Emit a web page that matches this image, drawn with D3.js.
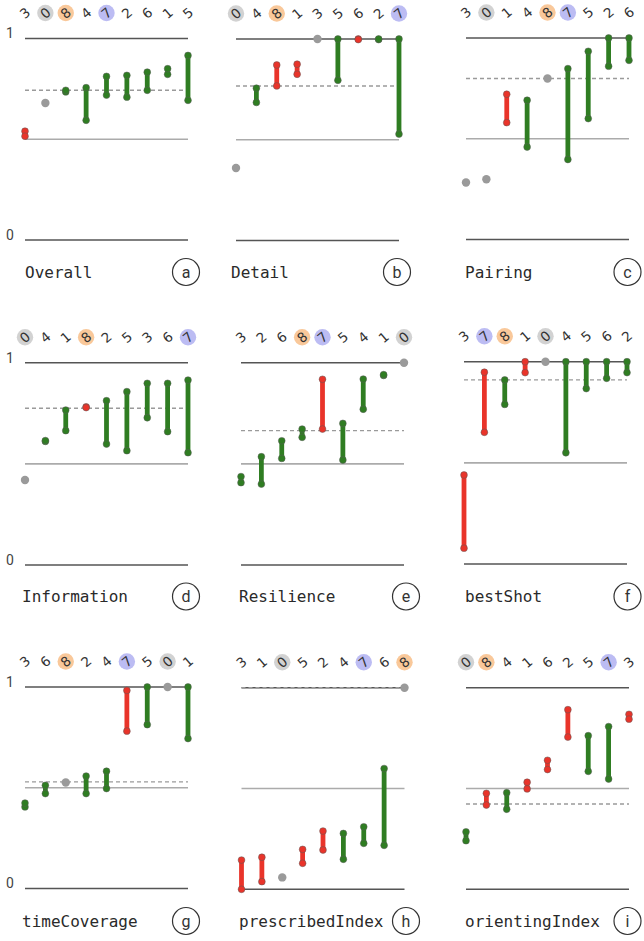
<!DOCTYPE html>
<html>
<head>
<meta charset="utf-8">
<script src="https://cdn.jsdelivr.net/npm/d3@7"></script>
<style>
  body { margin: 0; background: #fff; }
  svg { display: block; }
</style>
</head>
<body>
<svg id="chart" width="644" height="941"></svg>
<script>
// Panel data
const titles = ["Overall", "Detail", "Pairing", "Information", "Resilience", "bestShot",
    "timeCoverage", "prescribedIndex", "orientingIndex"];
const letters = ["a", "b", "c", "d", "e", "f", "g", "h", "i"];

const orders = [
    [3, 0, 8, 4, 7, 2, 6, 1, 5],
    [0, 4, 8, 1, 3, 5, 6, 2, 7],
    [3, 0, 1, 4, 8, 7, 5, 2, 6],
    [0, 4, 1, 8, 2, 5, 3, 6, 7],
    [3, 2, 6, 8, 7, 5, 4, 1, 0],
    [3, 7, 8, 1, 0, 4, 5, 6, 2],
    [3, 6, 8, 2, 4, 7, 5, 0, 1],
    [3, 1, 0, 5, 2, 4, 7, 6, 8],
    [0, 8, 4, 1, 6, 2, 5, 7, 3]
];

// value before and after, one per category in the order above
const fromVals = [
    [0.54, 0.68, 0.735, 0.594, 0.719, 0.709, 0.743, 0.822, 0.693],
    [0.36, 0.685, 0.871, 0.875, 1.0, 0.795, 1.0, 0.997, 0.528],
    [0.283, 0.299, 0.721, 0.459, 0.799, 0.397, 0.6, 0.86, 0.889],
    [0.42, 0.611, 0.664, 0.782, 0.598, 0.565, 0.728, 0.659, 0.555],
    [0.407, 0.4, 0.527, 0.631, 0.918, 0.519, 0.77, 0.937, 1.0],
    [0.44, 0.948, 0.789, 1.0, 1.0, 0.55, 0.867, 0.918, 0.946],
    [0.405, 0.471, 0.526, 0.471, 0.496, 0.983, 0.813, 1.0, 0.744],
    [0.145, 0.159, 0.059, 0.198, 0.289, 0.149, 0.228, 0.218, 1.0],
    [0.241, 0.476, 0.397, 0.531, 0.64, 0.891, 0.585, 0.547, 0.868]
];
const toVals = [
    [0.515, 0.68, 0.743, 0.756, 0.812, 0.817, 0.833, 0.85, 0.916],
    [0.36, 0.756, 0.767, 0.825, 1.0, 1.0, 0.997, 1.0, 1.0],
    [0.283, 0.299, 0.58, 0.691, 0.799, 0.848, 0.934, 1.0, 1.0],
    [0.42, 0.615, 0.766, 0.778, 0.812, 0.857, 0.898, 0.898, 0.914],
    [0.437, 0.535, 0.614, 0.672, 0.672, 0.7, 0.919, 0.941, 1.0],
    [0.078, 0.651, 0.91, 0.946, 1.0, 1.0, 1.0, 1.0, 1.0],
    [0.424, 0.512, 0.526, 0.558, 0.582, 0.781, 1.0, 1.0, 1.0],
    [0.0, 0.038, 0.059, 0.129, 0.195, 0.277, 0.31, 0.599, 1.0],
    [0.285, 0.418, 0.479, 0.498, 0.594, 0.755, 0.762, 0.807, 0.844]
];
// dashed reference level in each panel
const refVals = [0.743, 0.767, 0.799, 0.775, 0.664, 0.91, 0.529, 1.0, 0.423];

const highlight = { 0: "#d2d2d2", 8: "#f9c89a", 7: "#bcbcf3" };
const colors = { up: "#2f7d22", down: "#e9342a", same: "#9a9a9a" };

// layout of each panel: x range of the marks, y of the 1 and 0 lines, title x
const layout = [
    { x0: 25, x1: 188, y1: 38.5, y0: 240, tx: 25 },
    { x0: 236, x1: 399, y1: 39, y0: 240.5, tx: 231 },
    { x0: 466, x1: 629, y1: 38, y0: 239.5, tx: 465 },
    { x0: 25, x1: 188, y1: 362.7, y0: 565, tx: 22 },
    { x0: 241, x1: 404, y1: 362.7, y0: 565, tx: 239 },
    { x0: 464, x1: 627, y1: 361.7, y0: 564, tx: 465 },
    { x0: 25, x1: 188, y1: 687, y0: 888.5, tx: 22 },
    { x0: 241.5, x1: 404.5, y1: 687.7, y0: 889.3, tx: 239 },
    { x0: 466, x1: 629, y1: 687.7, y0: 889.3, tx: 465 }
];

const svg = d3.select("#chart");

titles.forEach((title, p) => {
    const L = layout[p];
    const row = Math.floor(p / 3), col = p % 3;
    const g = svg.append("g");

    const x = d3.scalePoint().domain(orders[p]).range([L.x0, L.x1]);
    const y = d3.scaleLinear().domain([0, 1]).range([L.y0, L.y1]);

    // grid lines at 1, 0.5, 0
    [[1, "#555"], [0.5, "#ababab"], [0, "#555"]].forEach(([v, c]) => {
        g.append("line")
            .attr("x1", L.x0).attr("x2", L.x1)
            .attr("y1", y(v)).attr("y2", y(v))
            .attr("stroke", c)
            .attr("stroke-width", 1.6);
    });

    // reference level
    g.append("line")
        .attr("x1", L.x0).attr("x2", L.x1)
        .attr("y1", y(refVals[p])).attr("y2", y(refVals[p]))
        .attr("stroke", "#9a9a9a")
        .attr("stroke-width", 1.4)
        .attr("stroke-dasharray", "4,3");

    // axis labels on the first column
    if (col === 0) {
        [1, 0].forEach(v => {
            g.append("text")
                .attr("x", 10).attr("y", y(v) - 5)
                .attr("dy", "0.35em")
                .attr("text-anchor", "middle")
                .style("font-family", "Roboto, sans-serif")
                .style("font-size", "14px")
                .style("fill", "#444")
                .text(v);
        });
    }

    // category labels on top
    const labelY = L.y1 - 25.5;
    const labs = g.append("g").selectAll("g")
        .data(orders[p])
        .join("g")
        .attr("transform", d => `translate(${x(d)},${labelY})`);
    labs.filter(d => highlight[d])
        .append("circle")
        .attr("r", 8.2)
        .attr("fill", d => highlight[d]);
    labs.append("text")
        .attr("transform", "rotate(-40)")
        .attr("dy", "0.36em")
        .attr("text-anchor", "middle")
        .style("font-family", "'DejaVu Sans', sans-serif")
        .style("font-size", "13.5px")
        .style("fill", "#333")
        .text(d => d);

    // marks
    const marks = orders[p].map((c, i) => ({ c, from: fromVals[p][i], to: toVals[p][i] }));
    const kind = d => d.to > d.from ? "up" : d.to < d.from ? "down" : "same";

    const mg = g.append("g");
    mg.selectAll("line")
        .data(marks.filter(d => kind(d) !== "same"))
        .join("line")
        .attr("x1", d => x(d.c)).attr("x2", d => x(d.c))
        .attr("y1", d => y(d.from)).attr("y2", d => y(d.to))
        .attr("stroke", d => colors[kind(d)])
        .attr("stroke-width", 4.8);
    mg.selectAll("circle.end")
        .data(marks.filter(d => kind(d) !== "same").flatMap(d => [
            { c: d.c, v: d.from, k: kind(d) }, { c: d.c, v: d.to, k: kind(d) }]))
        .join("circle")
        .attr("class", "end")
        .attr("cx", d => x(d.c))
        .attr("cy", d => y(d.v))
        .attr("r", 3.4)
        .attr("fill", d => colors[d.k])
        .attr("stroke", "rgba(90,90,90,0.55)")
        .attr("stroke-width", 0.9);
    mg.selectAll("circle.same")
        .data(marks.filter(d => kind(d) === "same"))
        .join("circle")
        .attr("class", "same")
        .attr("cx", d => x(d.c))
        .attr("cy", d => y(d.from))
        .attr("r", 4.2)
        .attr("fill", colors.same);

    // title and panel letter
    const ty = 272 + row * 324.5;
    g.append("text")
        .attr("x", L.tx).attr("y", ty)
        .attr("dy", "0.35em")
        .style("font-family", "'DejaVu Sans Mono', monospace")
        .style("font-size", "16px")
        .style("fill", "#2a2a2a")
        .text(title);
    const lx = [186, 397, 627.5][col] + (p === 4 || p === 7 ? 9 : 0);
    g.append("circle")
        .attr("cx", lx).attr("cy", ty)
        .attr("r", 13.5)
        .attr("fill", "none")
        .attr("stroke", "#333")
        .attr("stroke-width", 1.2);
    g.append("text")
        .attr("x", lx).attr("y", ty)
        .attr("dy", "0.35em")
        .attr("text-anchor", "middle")
        .style("font-family", "Roboto, sans-serif")
        .style("font-size", "16px")
        .style("fill", "#333")
        .text(letters[p]);
});
</script>
</body>
</html>
